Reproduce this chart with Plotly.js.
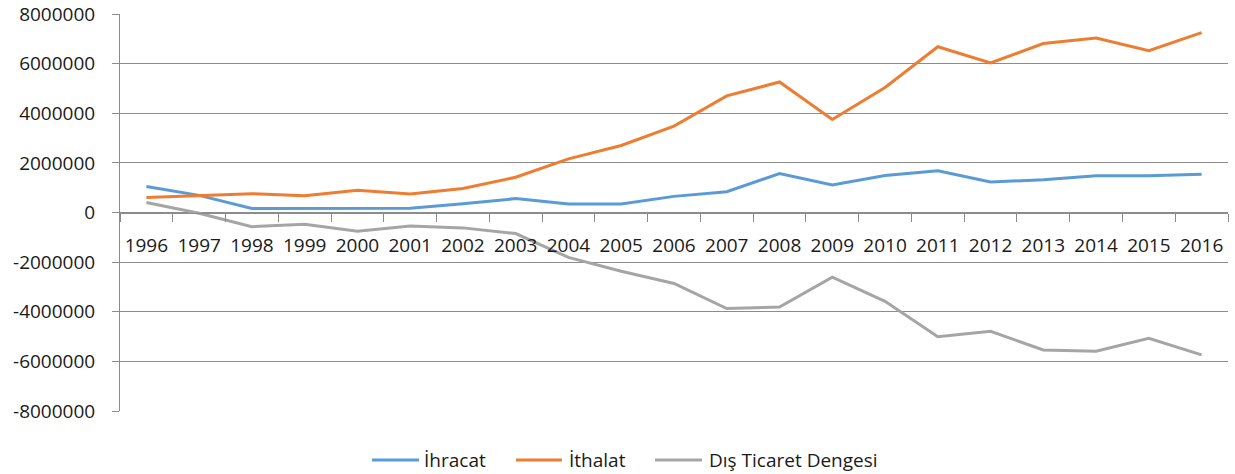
<!DOCTYPE html>
<html>
<head>
<meta charset="utf-8">
<script src="https://cdn.plot.ly/plotly-3.0.1.min.js"></script>
<style>html,body{margin:0;padding:0;background:#fff;}#chart{width:1235px;height:474px;}</style>
</head>
<body>
<div id="chart"></div>
<script>
const years = ["1996","1997","1998","1999","2000","2001","2002","2003","2004","2005","2006","2007","2008","2009","2010","2011","2012","2013","2014","2015","2016"];
const ihracat = [1050000, 690000, 160000, 160000, 160000, 170000, 350000, 560000, 340000, 340000, 650000, 840000, 1570000, 1110000, 1490000, 1680000, 1230000, 1320000, 1480000, 1480000, 1540000];
const ithalat = [600000, 690000, 760000, 680000, 900000, 750000, 970000, 1420000, 2160000, 2700000, 3480000, 4700000, 5260000, 3750000, 5040000, 6680000, 6030000, 6810000, 7030000, 6520000, 7250000];
const denge = [400000, -30000, -570000, -470000, -760000, -540000, -620000, -850000, -1810000, -2370000, -2860000, -3870000, -3810000, -2610000, -3580000, -5010000, -4790000, -5540000, -5590000, -5070000, -5740000];
const seriesNames = ["İhracat", "İthalat", "Dış Ticaret Dengesi"];
const yTicks = [-8000000, -6000000, -4000000, -2000000, 0, 2000000, 4000000, 6000000, 8000000];

const colors = ["#5B9BD5", "#ED7D31", "#A5A5A5"];
const allSeries = [ihracat, ithalat, denge];
const traces = allSeries.map((vals, i) => ({
  type: "scatter", mode: "lines", x: years, y: vals, name: seriesNames[i],
  line: {color: colors[i], width: 3}, hoverinfo: "x+y", showlegend: false
}));

const W = 1235, H = 474;
const M = {l: 120, r: 7, t: 14, b: 63};
const plotW = W - M.l - M.r, plotH = H - M.t - M.b;
const px2x = p => (p - M.l) / plotW;
const py2y = p => (H - M.b - p) / plotH;

const font = {family: "'Open Sans', 'Noto Sans', sans-serif", size: 19, color: "#1a1a1a"};

// custom legend (Excel style: long line sample + text)
const legendItems = [{x0: 372, x1: 419, tx: 422}, {x0: 516, x1: 562, tx: 567}, {x0: 655, x1: 702, tx: 707}];
const legendY = 460;
const shapes = legendItems.map((it, i) => ({
  type: "line", xref: "paper", yref: "paper",
  x0: px2x(it.x0), x1: px2x(it.x1), y0: py2y(legendY), y1: py2y(legendY),
  line: {color: colors[i], width: 3}
}));
const annotations = legendItems.map((it, i) => ({
  xref: "paper", yref: "paper", x: px2x(it.tx), y: py2y(legendY),
  xanchor: "left", yanchor: "middle", showarrow: false, text: seriesNames[i], font: font
}));

const layout = {
  width: W, height: H,
  margin: Object.assign({autoexpand: false}, M),
  paper_bgcolor: "#fff", plot_bgcolor: "#fff",
  font: font,
  showlegend: false,
  shapes: shapes, annotations: annotations,
  xaxis: {
    type: "category", anchor: "free", position: 0.5, range: [-0.5, years.length - 0.5],
    showline: true, linecolor: "#8c8c8c", linewidth: 1,
    ticks: "outside", tickson: "boundaries", ticklen: 8, tickcolor: "#8c8c8c", tickwidth: 1,
    showgrid: false, zeroline: false, tickfont: font, ticklabelstandoff: 16
  },
  yaxis: {
    range: [-8000000, 8000000], tickvals: yTicks, ticktext: yTicks.map(v => String(v)),
    showline: true, linecolor: "#8c8c8c", linewidth: 1,
    ticks: "outside", ticklen: 7, tickcolor: "#8c8c8c",
    showgrid: true, gridcolor: "#8c8c8c", gridwidth: 1,
    zeroline: false, tickfont: font, ticklabelstandoff: 13
  }
};
Plotly.newPlot("chart", traces, layout, {displayModeBar: false, staticPlot: true});
</script>
</body>
</html>
